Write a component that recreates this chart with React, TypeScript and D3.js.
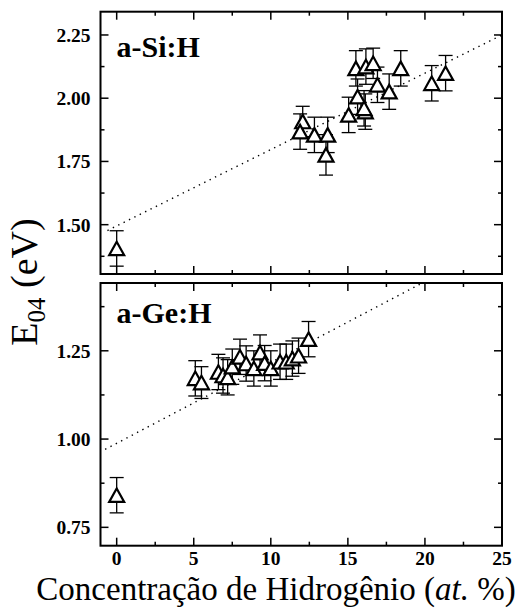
import React from "react";
import * as d3 from "d3";

// ---------- data ----------
const X_TICKS = [0, 5, 10, 15, 20, 25];
const X_MINOR = [2.5, 7.5, 12.5, 17.5, 22.5];
const SI_TICKS = [1.5, 1.75, 2.0, 2.25];
const SI_MINOR = [1.375, 1.625, 1.875, 2.125];
const GE_TICKS = [0.75, 1.0, 1.25];
const GE_MINOR = [0.875, 1.125, 1.375];

const siX = [0, 12.07, 11.9, 12.83, 13.69, 13.58, 15.05, 15.63, 16.13, 16.05, 15.52, 16.17, 16.64, 16.92, 17.68, 18.43, 20.44, 21.34];
const siY = [1.406, 1.908, 1.868, 1.855, 1.855, 1.776, 1.934, 2.006, 1.947, 1.96, 2.118, 2.125, 2.138, 2.053, 2.026, 2.118, 2.059, 2.099];
const siErr = [0.07, 0.06, 0.07, 0.07, 0.07, 0.08, 0.07, 0.07, 0.07, 0.07, 0.07, 0.07, 0.06, 0.07, 0.07, 0.07, 0.07, 0.07];

const geX = [0, 5.1, 5.5, 6.6, 6.9, 7.2, 7.5, 8.0, 8.4, 8.9, 9.3, 9.6, 10.0, 10.6, 11.0, 11.4, 11.8, 12.45];
const geY = [0.841, 1.172, 1.16, 1.19, 1.18, 1.175, 1.205, 1.233, 1.214, 1.2, 1.245, 1.215, 1.2, 1.219, 1.219, 1.228, 1.236, 1.283];
const geErr = [0.05, 0.05, 0.045, 0.05, 0.05, 0.05, 0.05, 0.05, 0.05, 0.05, 0.05, 0.05, 0.05, 0.05, 0.05, 0.05, 0.05, 0.05];

const siFit = { intercept: 1.495, slope: 0.0302, from: -0.6, to: 25 };
const geFit = { intercept: 0.988, slope: 0.0229, from: -0.75, to: 25 };

const X_TITLE_A = "Concentração de Hidrogênio (";
const X_TITLE_B = "at.";
const X_TITLE_C = " %)";

// ---------- layout ----------
const W = 532;
const H = 615;
const LEFT = 100.5;
const RIGHT = 502;
const FONT = "Liberation Serif, Times New Roman, Times, serif";

const x = d3.scaleLinear().domain([-1.05, 25]).range([LEFT, RIGHT]);
const ySi = d3.scaleLinear().domain([1.305, 2.342]).range([274, 11.7]);
const yGe = d3.scaleLinear().domain([0.698, 1.442]).range([545.7, 283]);

type Scale = d3.ScaleLinear<number, number>;

function Triangle({ cx, cy }: { cx: number; cy: number }) {
  const w = 15, h = 13.5;
  const p = d3.path();
  p.moveTo(cx, cy - h / 2);
  p.lineTo(cx + w / 2, cy + h / 2);
  p.lineTo(cx - w / 2, cy + h / 2);
  p.closePath();
  return <path d={p.toString()} fill="white" stroke="black" strokeWidth={2.2} strokeLinejoin="miter" />;
}

function Panel({
  y, yTicks, yMinor, xs, ys, errs, fit, label, labelY, id, showXLabels,
}: {
  y: Scale; yTicks: number[]; yMinor: number[]; xs: number[]; ys: number[]; errs: number[];
  fit: { intercept: number; slope: number; from: number; to: number }; label: string; labelY: number; id: string; showXLabels: boolean;
}) {
  const [y0, y1] = y.range();
  const top = y1, bottom = y0;
  const fitLine = d3.line<number>().x((d) => x(d)).y((d) => y(fit.intercept + fit.slope * d));
  const cap = 7;
  return (
    <g>
      <defs>
        <clipPath id={id}>
          <rect x={LEFT} y={top} width={RIGHT - LEFT} height={bottom - top} />
        </clipPath>
      </defs>
      <path d={fitLine([fit.from, fit.to]) || ""} stroke="black" strokeWidth={1.4} strokeDasharray="1.4,4.6" fill="none" clipPath={`url(#${id})`} />
      {xs.map((d, i) => {
        const cx = x(d);
        const ya = y(ys[i] + errs[i]);
        const yb = y(ys[i] - errs[i]);
        return (
          <g key={"e" + i} stroke="black" strokeWidth={1.3}>
            <line x1={cx} x2={cx} y1={ya} y2={yb} />
            <line x1={cx - cap} x2={cx + cap} y1={ya} y2={ya} />
            <line x1={cx - cap} x2={cx + cap} y1={yb} y2={yb} />
          </g>
        );
      })}
      {xs.map((d, i) => (
        <Triangle key={"t" + i} cx={x(d)} cy={y(ys[i])} />
      ))}
      <rect x={LEFT} y={top} width={RIGHT - LEFT} height={bottom - top} fill="none" stroke="black" strokeWidth={2} />
      {yTicks.map((t) => (
        <g key={"yt" + t} stroke="black" strokeWidth={1.5}>
          <line x1={LEFT} x2={LEFT + 8} y1={y(t)} y2={y(t)} />
          <line x1={RIGHT} x2={RIGHT - 8} y1={y(t)} y2={y(t)} />
        </g>
      ))}
      {yMinor.map((t) => (
        <g key={"ym" + t} stroke="black" strokeWidth={1.5}>
          <line x1={LEFT} x2={LEFT + 4} y1={y(t)} y2={y(t)} />
          <line x1={RIGHT} x2={RIGHT - 4} y1={y(t)} y2={y(t)} />
        </g>
      ))}
      {yTicks.map((t) => (
        <text key={"yl" + t} x={LEFT - 10} y={y(t)} dy="0.35em" textAnchor="end" style={{ fontFamily: FONT }} fontWeight="bold" fontSize={19.5}>
          {t.toFixed(2)}
        </text>
      ))}
      {X_TICKS.filter((t) => x(t) < RIGHT - 1).map((t) => (
        <g key={"xt" + t} stroke="black" strokeWidth={1.5}>
          <line x1={x(t)} x2={x(t)} y1={bottom} y2={bottom - 8} />
          <line x1={x(t)} x2={x(t)} y1={top} y2={top + 8} />
        </g>
      ))}
      {X_MINOR.map((t) => (
        <g key={"xm" + t} stroke="black" strokeWidth={1.5}>
          <line x1={x(t)} x2={x(t)} y1={bottom} y2={bottom - 4} />
          <line x1={x(t)} x2={x(t)} y1={top} y2={top + 4} />
        </g>
      ))}
      {showXLabels &&
        X_TICKS.map((t) => (
          <text key={"xl" + t} x={x(t)} y={bottom + 19} textAnchor="middle" style={{ fontFamily: FONT }} fontWeight="bold" fontSize={19.5}>
            {t}
          </text>
        ))}
      <text x={LEFT + 16} y={labelY} style={{ fontFamily: FONT }} fontWeight="bold" fontSize={30}>
        {label}
      </text>
    </g>
  );
}

export default function App() {
  return (
    <svg width={W} height={H} style={{ display: "block", position: "absolute", left: 0, top: 0, background: "white" }}>
      <rect width={W} height={H} fill="white" />
      <Panel y={ySi} yTicks={SI_TICKS} yMinor={SI_MINOR} xs={siX} ys={siY} errs={siErr} fit={siFit} label="a-Si:H" labelY={56.7} id="clipSi" showXLabels={false} />
      <Panel y={yGe} yTicks={GE_TICKS} yMinor={GE_MINOR} xs={geX} ys={geY} errs={geErr} fit={geFit} label="a-Ge:H" labelY={323.3} id="clipGe" showXLabels={true} />
      <text transform="translate(37,282) rotate(-90)" textAnchor="middle" style={{ fontFamily: FONT }} fontSize={38}>
        <tspan>E</tspan>
        <tspan fontSize={25} dy={8}>04</tspan>
        <tspan dy={-8}> (eV)</tspan>
      </text>
      <text x={276} y={600} textAnchor="middle" style={{ fontFamily: FONT }} fontSize={33}>
        <tspan>{X_TITLE_A}</tspan>
        <tspan fontStyle="italic">{X_TITLE_B}</tspan>
        <tspan>{X_TITLE_C}</tspan>
      </text>
    </svg>
  );
}
